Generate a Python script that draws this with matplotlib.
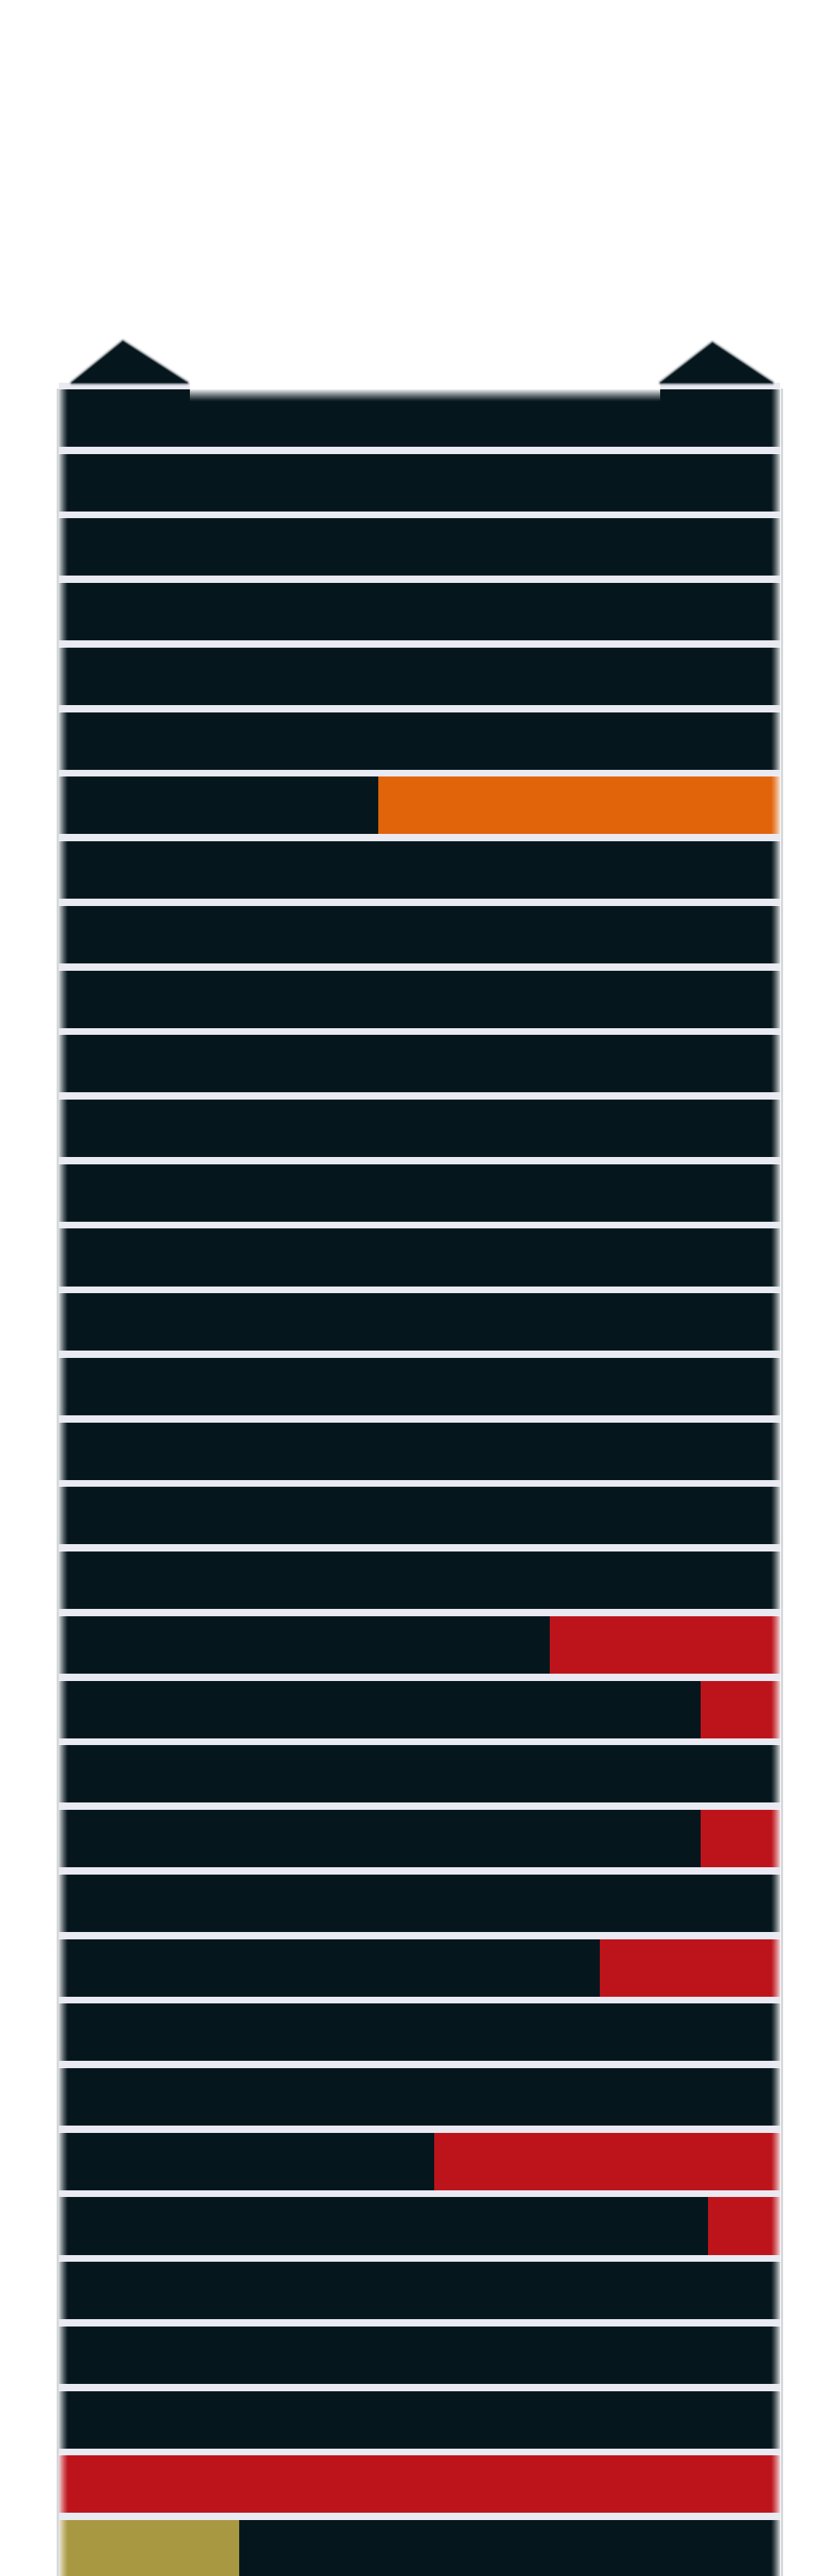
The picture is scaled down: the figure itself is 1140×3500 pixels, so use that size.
import numpy as np
import matplotlib
matplotlib.use("Agg")
import matplotlib.pyplot as plt
from matplotlib.patches import Polygon, Rectangle
from matplotlib.lines import Line2D

# ---------------- data (share of each row, 34 rows top -> bottom) ----------------
rows = list(range(34))
olive_share = [0, 0, 0, 0, 0, 0, 0, 0, 0, 0, 0, 0, 0, 0, 0, 0, 0, 0, 0, 0,
               0, 0, 0, 0, 0, 0, 0, 0, 0, 0, 0, 0, 0, 0.25]
black_share = [1, 1, 1, 1, 1, 1, 0.443, 1, 1, 1, 1, 1, 1, 1, 1, 1, 1, 1, 1,
               0.681, 0.890, 1, 0.890, 1, 0.750, 1, 1, 0.520, 0.900, 1, 1, 1,
               0.0, 0.75]
orange_share = [0, 0, 0, 0, 0, 0, 0.557, 0, 0, 0, 0, 0, 0, 0, 0, 0, 0, 0, 0,
                0, 0, 0, 0, 0, 0, 0, 0, 0, 0, 0, 0, 0, 0, 0]
red_share = [0, 0, 0, 0, 0, 0, 0, 0, 0, 0, 0, 0, 0, 0, 0, 0, 0, 0, 0,
             0.319, 0.110, 0, 0.110, 0, 0.250, 0, 0, 0.480, 0.100, 0, 0, 0,
             1.0, 0]

series = [("olive", olive_share, "#A99842"),
          ("black", black_share, "#06161D"),
          ("orange", orange_share, "#E1640A"),
          ("red", red_share, "#BD141C")]

BAR_H = 0.89
BG = "#EAEAF2"
W, H = 1140, 3500
PITCH = 87.73
YLIM = (33.42, -0.547)

fig = plt.figure(figsize=(W / 100, H / 100), dpi=100)
fig.patch.set_facecolor("white")
ax = fig.add_axes([80 / W, 0, 980 / W, (H - 520) / H])
ax.set_facecolor(BG)
for s in ax.spines.values():
    s.set_visible(False)
ax.set_xticks([])
ax.set_yticks([])

left = np.zeros(len(rows))
for name, vals, col in series:
    v = np.array(vals, dtype=float)
    ax.barh(rows, v, left=left, height=BAR_H, color=col, linewidth=0, zorder=2)
    left += v

# ---- soft (blurred) left / right edges of the bars ----
edge_w = 13 / 980
n = 64
alpha_l = np.linspace(0.85, 0.0, n) ** 1.3
grad_l = np.ones((1, n, 4))
grad_l[0, :, 3] = alpha_l
grad_r = grad_l[:, ::-1, :]
for r in rows:
    y0, y1 = r - BAR_H / 2, r + BAR_H / 2
    ax.imshow(grad_l, extent=(0, edge_w, y1, y0), aspect="auto", zorder=3,
              interpolation="bilinear")
    ax.imshow(grad_r, extent=(1 - edge_w, 1, y1, y0), aspect="auto", zorder=3,
              interpolation="bilinear")


def px2x(px):
    return (px - 80) / 980


def py2y(py):
    return (py - 568) / PITCH


# ---- head top: white between the ears, fading into first bar ----
hx0, hx1 = px2x(258), px2x(897)
ax.add_patch(Rectangle((hx0, YLIM[1] - 0.01), hx1 - hx0, (YLIM[1] - 0.01) * -1 - BAR_H / 2,
                       facecolor="white", edgecolor="none", zorder=4, clip_on=False))
vg = np.ones((n, 1, 4))
vg[:, 0, 3] = np.linspace(1.0, 0.0, n) ** 1.2
ax.imshow(vg, extent=(hx0, hx1, py2y(546), -BAR_H / 2), aspect="auto", zorder=4,
          interpolation="bilinear")

# ---- ears ----
ears = [[(px2x(98), py2y(520)), (px2x(167), py2y(464)), (px2x(254), py2y(520))],
        [(px2x(898), py2y(520)), (px2x(968), py2y(466)), (px2x(1049), py2y(520))]]
for tri in ears:
    for lw, a in [(6, 0.12), (3.5, 0.3), (1.8, 0.55)]:
        ax.add_patch(Polygon(tri, closed=True, facecolor="none", edgecolor="#06161D",
                             linewidth=lw, alpha=a, joinstyle="round", zorder=5,
                             clip_on=False))
    ax.add_patch(Polygon(tri, closed=True, facecolor="#06161D", edgecolor="none",
                         zorder=6, clip_on=False))

ax.set_xlim(0, 1)
ax.set_ylim(*YLIM)

# ---- faint outer frame lines ----
for xp in (78, 1061.5):
    fig.add_artist(Line2D([xp / W, xp / W], [0, (H - 529) / H], color="#D6D9DC",
                          linewidth=2.2, zorder=1))

fig.savefig("out.png", dpi=100, facecolor="white")
